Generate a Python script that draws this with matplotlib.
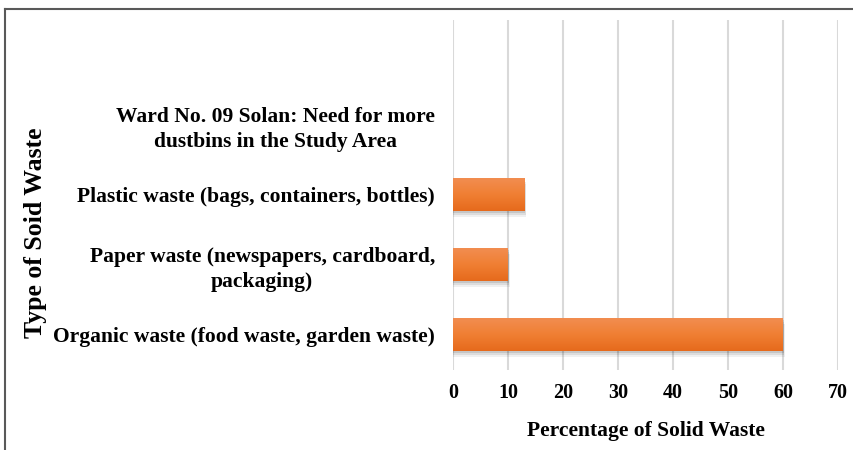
import numpy as np
import matplotlib
matplotlib.use("Agg")
import matplotlib.pyplot as plt
from matplotlib.patches import Rectangle
from matplotlib.lines import Line2D
from matplotlib.colors import LinearSegmentedColormap

categories = [
    "Organic waste (food waste, garden waste)",
    "Paper waste (newspapers, cardboard,\npackaging)",
    "Plastic waste (bags, containers, bottles)",
    "Ward No. 09 Solan: Need for more\ndustbins in the Study Area",
]
values = [60, 10, 13, 0]
x_ticks = [0, 10, 20, 30, 40, 50, 60, 70]

plt.rcParams["font.family"] = ["Liberation Serif", "DejaVu Serif"]
plt.rcParams["font.weight"] = "bold"

fig = plt.figure(figsize=(8.54, 4.5), dpi=100)
ax = fig.add_axes([453 / 854, 1 - 369.5 / 450, 385 / 854, 350 / 450])

ypos = np.arange(len(categories))
bar_h = 0.47
orange = LinearSegmentedColormap.from_list("org", ["#e66a1c", "#f07f33", "#f28d50"])
grad = np.linspace(0, 1, 64).reshape(-1, 1)

for y, v in zip(ypos, values):
    if v <= 0:
        continue
    # soft drop shadow
    for k, a in enumerate([0.10, 0.08, 0.06]):
        off = (k + 1) * 0.12
        sh = Rectangle((0, y - bar_h / 2 - 0.03 * (k + 1)), v + off, bar_h,
                       facecolor="#000000", alpha=a, edgecolor="none", zorder=2)
        ax.add_patch(sh)
    rect = Rectangle((0, y - bar_h / 2), v, bar_h, facecolor="none",
                     edgecolor="none", zorder=3)
    ax.add_patch(rect)
    im = ax.imshow(grad, cmap=orange, aspect="auto",
                   extent=(0, v, y - bar_h / 2, y + bar_h / 2),
                   origin="lower", zorder=3, interpolation="bicubic")
    im.set_clip_path(rect)

ax.set_xlim(0, 70)
ax.set_ylim(-0.5, 4.5)
ax.set_xticks(x_ticks)
ax.set_xticklabels([str(t) for t in x_ticks], fontsize=14.5, fontweight="bold")
ax.set_yticks(ypos)
ax.set_yticklabels(categories, fontsize=15.5, fontweight="bold",
                   multialignment="center", linespacing=1.3)
ax.tick_params(axis="both", length=0)
ax.tick_params(axis="y", pad=13)
ax.tick_params(axis="x", pad=10)
ax.grid(axis="x", color="#d9d9d9", linewidth=1.5, zorder=0)
ax.set_axisbelow(True)
for s in ax.spines.values():
    s.set_visible(False)

ax.set_xlabel("Percentage of Solid Waste", fontsize=15.5, fontweight="bold",
              labelpad=13)
fig.text(36 / 854, 1 - 233 / 450, "Type of Soid Waste", rotation=90,
         ha="center", va="center", fontsize=18.5, fontweight="bold")

# outer frame
fig.add_artist(Line2D([5 / 854, 5 / 854], [0, 1 - 9 / 450], color="#595959",
                      linewidth=1.5, transform=fig.transFigure))
fig.add_artist(Line2D([5 / 854, 1], [1 - 9 / 450, 1 - 9 / 450], color="#595959",
                      linewidth=1.5, transform=fig.transFigure))

fig.savefig("out.png", dpi=100)
